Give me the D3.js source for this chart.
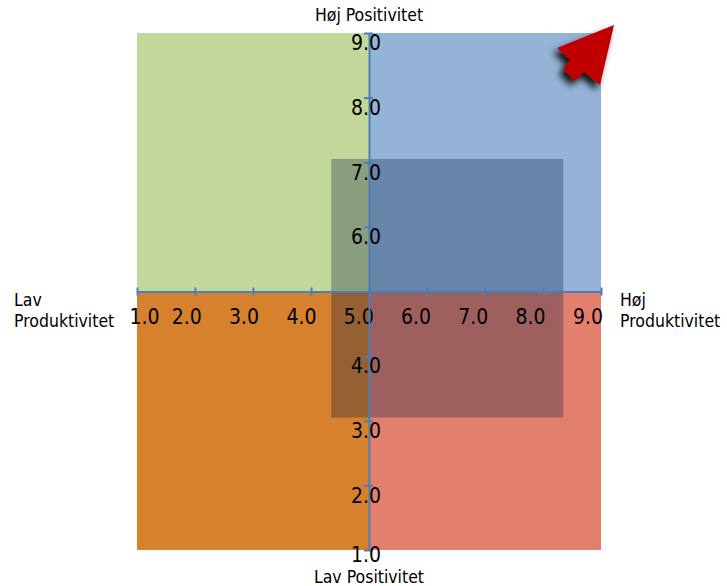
<!DOCTYPE html>
<html>
<head>
<meta charset="utf-8">
<script src="https://cdn.jsdelivr.net/npm/d3@7"></script>
<style>
  html, body { margin: 0; padding: 0; background: #fff; }
  svg { display: block; }
  text { font-family: "DejaVu Sans Condensed", "DejaVu Sans", sans-serif; }
</style>
</head>
<body>
<div id="chart"></div>
<script>
// axis ticks (both axes run 1..9, crossing at 5)
const xTicks = [1, 2, 3, 4, 5, 6, 7, 8, 9];
const yTicks = [1, 2, 3, 4, 6, 7, 8, 9];
const center = [5, 5];

// quadrants: [x0, x1, y0, y1]
const quadNames = ['Lav prod / høj pos', 'Høj prod / høj pos', 'Lav prod / lav pos', 'Høj prod / lav pos'];
const quadX0 = [1, 5, 1, 5];
const quadX1 = [5, 9, 5, 9];
const quadY0 = [5, 5, 1, 1];
const quadY1 = [9, 9, 5, 5];

// the shaded "target" box in the middle
const boxX = [4.35, 8.35];
const boxY = [3.05, 7.05];

const axisTitles = {
  top: ['Høj Positivitet'],
  bottom: ['Lav Positivitet'],
  left: ['Lav', 'Produktivitet'],
  right: ['Høj', 'Produktivitet']
};

const quadColors = ['#c4d79b', '#95b3d7', '#d6812e', '#e3806d'];
const axisColor = '#4a7ebb';

const W = 727, H = 586;
const margin = { top: 33, right: 126, bottom: 36, left: 137 };

const svg = d3.select('#chart').append('svg')
  .attr('width', W)
  .attr('height', H);

const defs = svg.append('defs');
const shadow = defs.append('filter')
  .attr('id', 'shadow')
  .attr('x', '-50%').attr('y', '-50%')
  .attr('width', '200%').attr('height', '200%');
shadow.append('feDropShadow')
  .attr('dx', -4).attr('dy', 5)
  .attr('stdDeviation', 3.5)
  .attr('flood-color', '#000')
  .attr('flood-opacity', 0.9);

const x = d3.scaleLinear().domain([1, 9]).range([margin.left, W - margin.right]);
const y = d3.scaleLinear().domain([1, 9]).range([H - margin.bottom, margin.top]);

// quadrants
svg.append('g').selectAll('rect')
  .data(quadNames)
  .join('rect')
  .attr('x', (d, i) => x(quadX0[i]))
  .attr('y', (d, i) => y(quadY1[i]))
  .attr('width', (d, i) => x(quadX1[i]) - x(quadX0[i]))
  .attr('height', (d, i) => y(quadY0[i]) - y(quadY1[i]))
  .attr('fill', (d, i) => quadColors[i]);

// overlay box
svg.append('rect')
  .attr('x', x(boxX[0]))
  .attr('y', y(boxY[1]))
  .attr('width', x(boxX[1]) - x(boxX[0]))
  .attr('height', y(boxY[0]) - y(boxY[1]))
  .attr('fill', '#001840')
  .attr('fill-opacity', 0.3);

// horizontal axis
const gx = svg.append('g')
  .attr('transform', `translate(0,${y(center[1])})`)
  .call(d3.axisBottom(x)
    .tickValues(xTicks)
    .tickSizeOuter(0)
    .tickFormat(d3.format('.1f')));
gx.select('.domain').attr('stroke', axisColor).attr('stroke-width', 2);
gx.selectAll('.tick line')
  .attr('stroke', axisColor).attr('stroke-width', 2)
  .attr('y1', -4).attr('y2', 4);
// labels sit slightly left of their ticks, first one pushed inside
gx.selectAll('.tick text')
  .attr('y', 0).attr('dy', '1.55em')
  .attr('dx', d => d === 1 ? 7 : -8 - 0.7 * (d - 1))
  .attr('fill', '#000')
  .style('font-size', '21px')
  .style('font-family', '"DejaVu Sans Condensed", "DejaVu Sans", sans-serif');

// vertical axis
const gy = svg.append('g')
  .attr('transform', `translate(${x(center[0])},0)`)
  .call(d3.axisLeft(y)
    .tickValues(yTicks)
    .tickSizeOuter(0)
    .tickFormat(d3.format('.1f')));
gy.select('.domain').attr('stroke', axisColor).attr('stroke-width', 2);
gy.selectAll('.tick line')
  .attr('stroke', axisColor).attr('stroke-width', 2)
  .attr('x1', -5).attr('x2', 4);
gy.selectAll('.tick text')
  .attr('x', -3).attr('dy', d => d === 1 ? '0.55em' : '0.8em')
  .attr('text-anchor', 'middle')
  .attr('fill', '#000')
  .style('font-size', '21px')
  .style('font-family', '"DejaVu Sans Condensed", "DejaVu Sans", sans-serif');

// axis titles
const titleStyle = sel => sel
  .attr('fill', '#000')
  .style('font-size', '17.5px');

svg.append('text').call(titleStyle)
  .attr('x', x(center[0])).attr('y', margin.top - 12)
  .attr('text-anchor', 'middle')
  .text(axisTitles.top[0]);

svg.append('text').call(titleStyle)
  .attr('x', x(center[0])).attr('y', H - 3)
  .attr('text-anchor', 'middle')
  .text(axisTitles.bottom[0]);

const leftT = svg.append('text').call(titleStyle)
  .attr('x', 14).attr('y', y(center[1]) + 14);
leftT.selectAll('tspan').data(axisTitles.left).join('tspan')
  .attr('x', 14).attr('dy', (d, i) => i === 0 ? 0 : '1.25em')
  .text(d => d);

const rightT = svg.append('text').call(titleStyle)
  .attr('x', x(9) + 19).attr('y', y(center[1]) + 14);
rightT.selectAll('tspan').data(axisTitles.right).join('tspan')
  .attr('x', x(9) + 19).attr('dy', (d, i) => i === 0 ? 0 : '1.25em')
  .text(d => d);

// red arrow pointing to the top-right corner
const arrow = [[614, 25], [557, 48], [570, 60], [563, 69], [575, 81], [584, 72], [600, 85]];
svg.append('path')
  .attr('d', d3.line()(arrow) + 'Z')
  .attr('fill', '#c00000')
  .attr('filter', 'url(#shadow)');
</script>
</body>
</html>
